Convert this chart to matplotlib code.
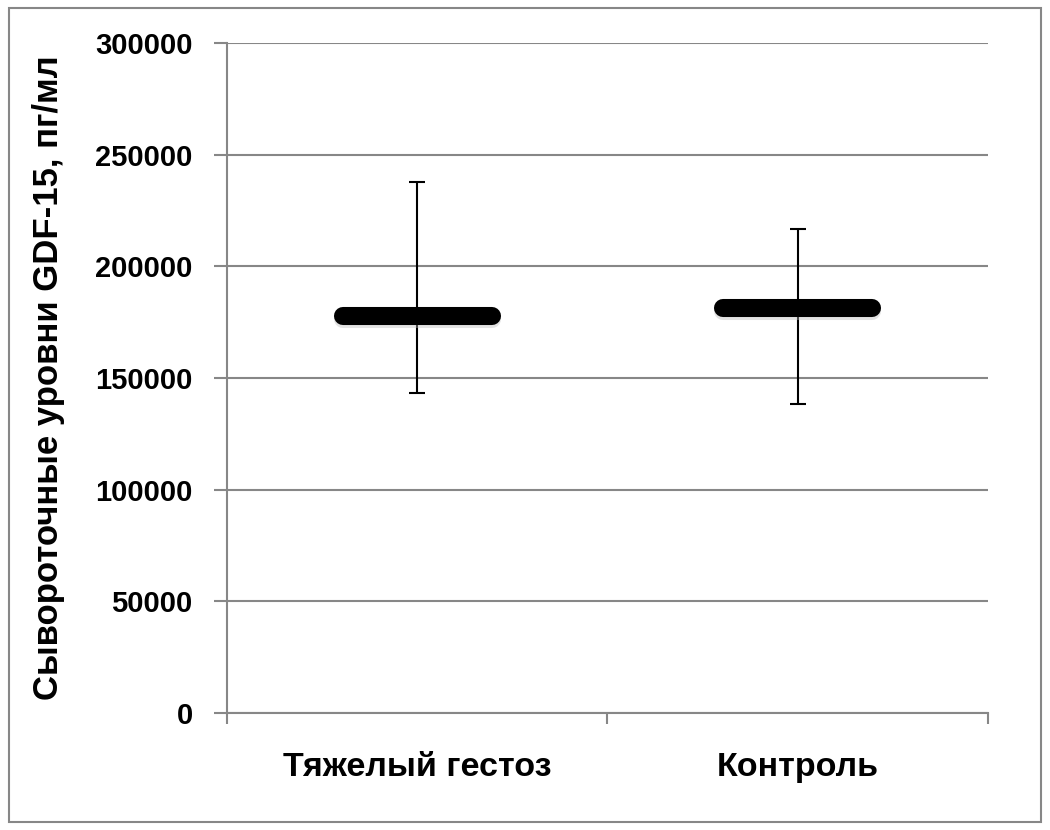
import matplotlib.pyplot as plt
import matplotlib.patheffects as pe
from matplotlib.patches import Rectangle

# data
categories = ["Тяжелый гестоз", "Контроль"]
means = [177700, 181400]
upper = [238000, 216700]
lower = [143300, 138300]
y_ticks = [0, 50000, 100000, 150000, 200000, 250000, 300000]

plt.rcParams["font.family"] = ["Liberation Sans", "DejaVu Sans"]
plt.rcParams["font.weight"] = "bold"

GRID = "#878787"

fig = plt.figure(figsize=(10.5, 8.3), dpi=100)
ax = fig.add_axes([0.216, 0.141, 0.725, 0.807])

x = [0.5, 1.5]
yerr = [[m - lo for m, lo in zip(means, lower)], [hi - m for m, hi in zip(means, upper)]]
ax.errorbar(x, means, yerr=yerr, fmt="none", ecolor="black", elinewidth=1.5,
            capsize=5.8, capthick=1.5, zorder=3)

for xi, m in zip(x, means):
    ax.plot([xi - 0.196, xi + 0.196], [m, m], color="black", linewidth=13,
            solid_capstyle="round", zorder=4,
            path_effects=[pe.SimpleLineShadow(offset=(0, -2), shadow_color="#bbbbbb", alpha=0.4),
                          pe.Normal()])

ax.set_xlim(0, 2)
ax.set_ylim(0, 300000)
ax.set_yticks(y_ticks)
ax.set_yticklabels([str(v) for v in y_ticks])
ax.set_xticks([0, 1, 2])
ax.set_xticklabels([])
ax.set_xticks(x, minor=True)
ax.set_xticklabels(categories, minor=True)
ax.tick_params(axis="x", which="minor", length=0, pad=28, labelsize=24.5)
ax.tick_params(axis="x", which="major", direction="out", length=8, width=1.5, color=GRID)
ax.tick_params(axis="y", direction="out", length=9.5, width=1.5, color=GRID, labelsize=21, pad=15)

ax.grid(axis="y", color=GRID, linewidth=1.5)
ax.set_axisbelow(True)
for side in ["top", "right"]:
    ax.spines[side].set_visible(False)
for side in ["left", "bottom"]:
    ax.spines[side].set_color(GRID)
    ax.spines[side].set_linewidth(1.5)

ax.set_ylabel("Сывороточные уровни GDF-15, пг/мл", fontsize=25, fontweight="bold", labelpad=22)

# outer frame of the chart area
fig.patches.append(Rectangle((0.009, 0.01), 0.982, 0.98, transform=fig.transFigure,
                             fill=False, edgecolor=GRID, linewidth=1.5))

fig.savefig("out.png")
